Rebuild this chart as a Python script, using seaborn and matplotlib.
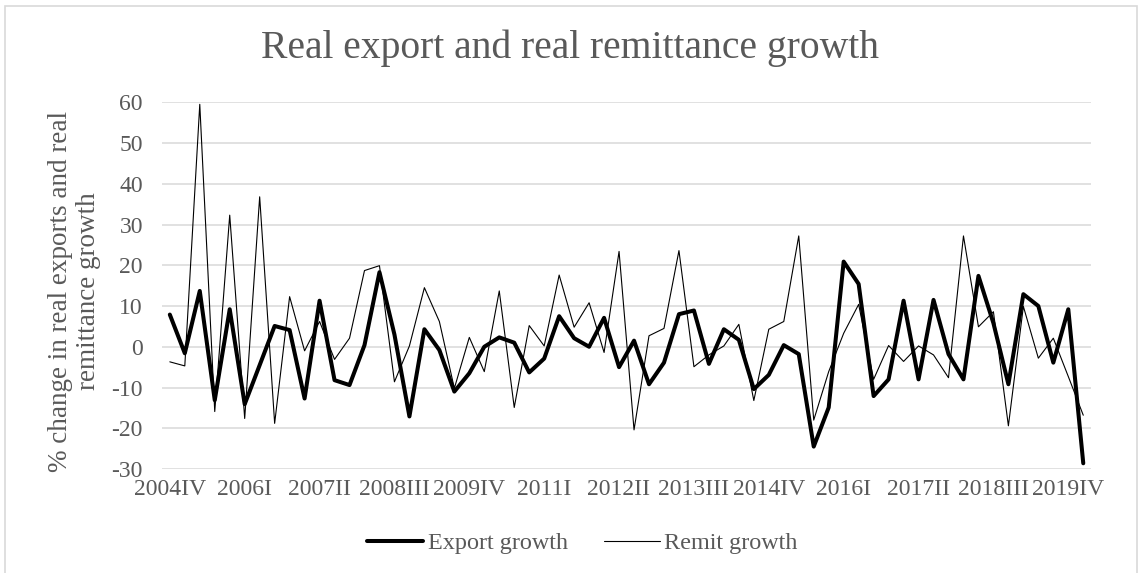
import matplotlib
matplotlib.use("Agg")
import matplotlib.pyplot as plt
import seaborn as sns
import pandas as pd
import numpy as np
from matplotlib.patches import Rectangle

quarters = []
roman = ["I", "II", "III", "IV"]
years = list(range(2004, 2021))
for y in years:
    for q in roman:
        quarters.append(f"{y}{q}")
quarters = quarters[3:3 + 62]  # 2004IV .. 2020I

export_growth = [7.9, -1.6, 13.7, -13.1, 9.2, -14.1, -4.5, 5.1, 4.1, -12.7,
                 11.3, -8.2, -9.4, 0.4, 18.3, 3.0, -17.1, 4.3, -0.8, -11.0,
                 -6.5, 0.0, 2.3, 1.0, -6.3, -2.9, 7.5, 2.1, 0.0, 7.1,
                 -5.0, 1.5, -9.2, -3.9, 8.0, 8.9, -4.2, 4.3, 1.7, -10.4,
                 -6.9, 0.4, -1.8, -24.5, -14.9, 20.9, 15.4, -12.1, -8.0, 11.3,
                 -8.0, 11.5, -1.8, -8.0, 17.4, 5.8, -9.2, 12.9, 10.0, -3.9,
                 9.2, -28.6]
remit_growth = [-3.7, -4.7, 59.5, -15.9, 32.3, -17.6, 36.8, -18.8, 12.3, -1.0,
                6.2, -3.1, 2.1, 18.7, 19.9, -8.6, 0.2, 14.5, 6.2, -10.2,
                2.3, -6.1, 13.7, -14.9, 5.2, 0.2, 17.6, 4.8, 10.8, -1.4,
                23.4, -20.4, 2.7, 4.5, 23.6, -4.9, -2.0, 0.2, 5.5, -13.2,
                4.3, 6.2, 27.2, -18.0, -6.1, 3.3, 10.4, -8.0, 0.3, -3.6,
                0.2, -2.0, -7.6, 27.2, 4.9, 8.6, -19.4, 9.9, -2.8, 2.1,
                -7.3, -16.8]
y_ticks = [-30, -20, -10, 0, 10, 20, 30, 40, 50, 60]

sns.set_theme(style="white")
plt.rcParams['font.family'] = ['Liberation Serif', 'DejaVu Serif']

df = pd.DataFrame({
    "idx": np.arange(len(quarters)),
    "quarter": quarters,
    "Export growth": export_growth,
    "Remit growth": remit_growth,
})

fig = plt.figure(figsize=(11.4, 5.73), dpi=100)
ax = fig.add_axes([0.1424, 0.1815, 0.8144, 0.64])

text_col = "#595959"
grid_col = "#d9d9d9"

for yv in y_ticks:
    ax.axhline(yv, color=grid_col, lw=1.1, zorder=0)

sns.lineplot(data=df, x="idx", y="Export growth", ax=ax, color="black",
             lw=2.9, label="Export growth", legend=False, zorder=3)
sns.lineplot(data=df, x="idx", y="Remit growth", ax=ax, color="black",
             lw=0.8, label="Remit growth", legend=False, zorder=2)

ax.set_xlim(-0.5, len(quarters) - 0.5)
ax.set_ylim(-30, 60)
ax.set_yticks(y_ticks)
ax.set_yticklabels([str(v) for v in y_ticks])
tick_pos = list(range(0, len(quarters), 5))
ax.set_xticks(tick_pos)
ax.set_xticklabels([quarters[i] for i in tick_pos])
ax.tick_params(axis="both", length=0, labelsize=17, colors=text_col)
ax.tick_params(axis="x", pad=7)
ax.tick_params(axis="y", pad=14)
for s in ax.spines.values():
    s.set_visible(False)
ax.set_xlabel("")
ax.set_ylabel("% change in real exports and real\nremittance growth",
              fontsize=19.5, color=text_col, linespacing=1.15)
ax.yaxis.set_label_coords(-0.066, 0.485)

fig.text(0.5, 0.915, "Real export and real remittance growth", fontsize=28.5,
         color=text_col, ha="center", va="center")

handles, labels = ax.get_legend_handles_labels()
leg = fig.legend(handles, labels, loc="center", bbox_to_anchor=(0.511, 0.052),
                 ncol=2, frameon=False, fontsize=17.4, handlelength=2.3,
                 handletextpad=0.2, columnspacing=1.5)
for t in leg.get_texts():
    t.set_color(text_col)

fig.patches.append(Rectangle((0.004, -0.01), 0.993, 1.0, transform=fig.transFigure,
                             fill=False, edgecolor="#d9d9d9", lw=1.2))

fig.savefig("out.png", dpi=100)
